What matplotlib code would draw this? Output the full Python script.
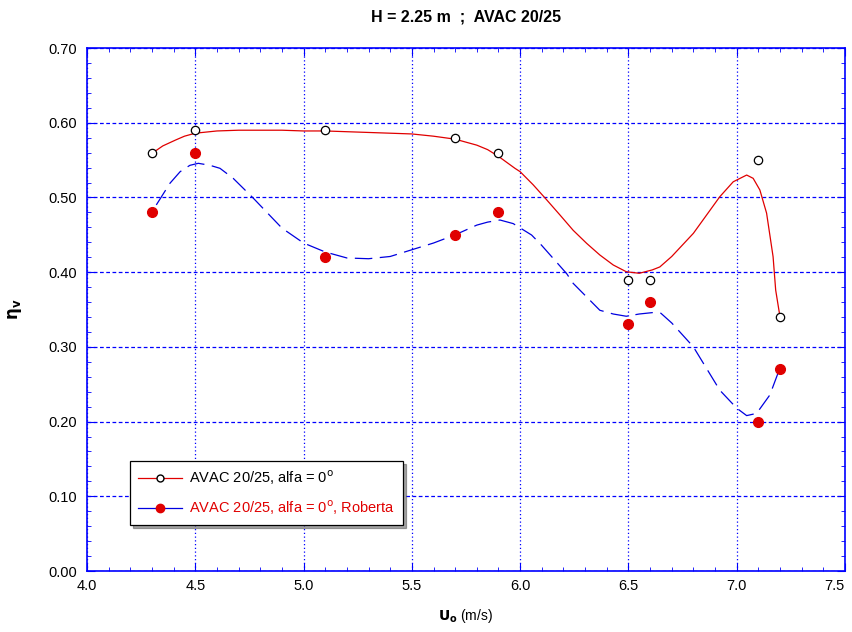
import matplotlib.pyplot as plt
from matplotlib.ticker import MultipleLocator, FuncFormatter, FormatStrFormatter

plt.rcParams['font.family'] = ['Liberation Sans', 'DejaVu Sans']

# measured points
u_meas = [4.3, 4.5, 5.1, 5.7, 5.9, 6.5, 6.6, 7.1, 7.2]
eta_alfa0 = [0.56, 0.59, 0.59, 0.58, 0.56, 0.39, 0.39, 0.55, 0.34]
eta_roberta = [0.48, 0.56, 0.42, 0.45, 0.48, 0.33, 0.36, 0.20, 0.27]

# fitted curves
u_fit_a = [4.30, 4.35, 4.41, 4.45, 4.50, 4.60, 4.70, 4.80, 4.90, 5.00, 5.10,
           5.20, 5.30, 5.40, 5.50, 5.60, 5.70, 5.80, 5.85, 5.90, 5.976, 6.00,
           6.06, 6.122, 6.184, 6.245, 6.307, 6.368, 6.43, 6.49, 6.55, 6.61,
           6.645, 6.70, 6.80, 6.922, 6.984, 7.046, 7.076, 7.107, 7.138, 7.168,
           7.18, 7.20]
eta_fit_a = [0.559, 0.569, 0.577, 0.582, 0.586, 0.589, 0.590, 0.590, 0.590, 0.589,
             0.589, 0.588, 0.587, 0.586, 0.585, 0.582, 0.578, 0.570, 0.564, 0.555,
             0.539, 0.5345, 0.517, 0.497, 0.4765, 0.456, 0.4386, 0.423, 0.4096,
             0.4006, 0.3985, 0.403, 0.407, 0.421, 0.452, 0.501, 0.521, 0.530,
             0.5256, 0.510, 0.479, 0.4207, 0.376, 0.34]

u_fit_b = [4.32, 4.383, 4.43, 4.475, 4.514, 4.568, 4.614, 4.675, 4.768, 4.90,
           5.00, 5.10, 5.20, 5.30, 5.40, 5.50, 5.60, 5.70, 5.80, 5.85, 5.907,
           5.968, 6.053, 6.099, 6.215, 6.245, 6.368, 6.43, 6.49, 6.55, 6.615,
           6.65, 6.70, 6.80, 6.922, 7.00, 7.046, 7.092, 7.153, 7.20]
eta_fit_b = [0.49, 0.519, 0.5345, 0.543, 0.5457, 0.543, 0.539, 0.5256, 0.499,
             0.459, 0.439, 0.427, 0.419, 0.418, 0.421, 0.430, 0.439, 0.450, 0.463,
             0.467, 0.4698, 0.465, 0.4497, 0.436, 0.398, 0.385, 0.349, 0.344,
             0.341, 0.344, 0.346, 0.345, 0.332, 0.300, 0.242, 0.218, 0.208,
             0.211, 0.2356, 0.272]

X_MIN, X_MAX = 4.0, 7.5

fig = plt.figure(figsize=(8.53, 6.32), dpi=100)
ax = fig.add_axes([0.102, 0.0965, 0.8886, 0.8275])

ax.plot(u_fit_a, eta_fit_a, color='#e00000', lw=0.9)
ax.plot(u_fit_b, eta_fit_b, color='#0000e0', lw=0.9, dashes=(14, 6))
ax.plot(u_meas, eta_alfa0, 'o', mfc='white', mec='black', ms=6, mew=0.9)
ax.plot(u_meas, eta_roberta, 'o', mfc='#e00000', mec='#e00000', ms=7)

# legend proxies
h1, = ax.plot([], [], color='#e00000', lw=0.9, marker='o', mfc='white', mec='black', ms=5)
h2, = ax.plot([], [], color='#0000e0', lw=0.9, marker='o', mfc='#e00000', mec='#e00000', ms=6)
leg = ax.legend([h1, h2], ['AVAC 20/25, alfa = 0$^{\\rm o}$',
                           'AVAC 20/25, alfa = 0$^{\\rm o}$, Roberta'],
                loc='lower left', bbox_to_anchor=(0.057, 0.088), borderaxespad=0,
                fontsize=10.5, frameon=True, fancybox=False, shadow=True,
                edgecolor='black', handlelength=3.0, handletextpad=0.5,
                labelspacing=0.75, borderpad=0.55)
leg.get_frame().set_linewidth(0.9)
leg.get_texts()[1].set_color('#e00000')

ax.set_xlim(X_MIN, X_MAX)
ax.set_ylim(0.0, 0.70)
ax.xaxis.set_major_locator(MultipleLocator(0.5))
ax.xaxis.set_minor_locator(MultipleLocator(0.1))
ax.yaxis.set_major_locator(MultipleLocator(0.1))
ax.yaxis.set_minor_locator(MultipleLocator(0.02))
# last x label is drawn right-aligned below, so it stays inside the figure
ax.xaxis.set_major_formatter(FuncFormatter(
    lambda v, pos: '' if abs(v - X_MAX) < 1e-9 else '%.1f' % v))
ax.yaxis.set_major_formatter(FormatStrFormatter('%.2f'))

ax.xaxis.grid(True, color='#0000ff', ls=(0, (1, 2)), lw=0.9)
ax.yaxis.grid(True, color='#0000ff', ls=(0, (3, 2)), lw=0.9)
ax.set_axisbelow(True)

ax.tick_params(which='both', direction='in', top=True, right=True, colors='#0000ff',
               labelcolor='black', labelsize=10.5)
ax.tick_params(which='major', length=6)
ax.tick_params(which='minor', length=3)
ax.tick_params(axis='y', which='major', pad=7)
ax.tick_params(axis='x', which='major', pad=6)
for s in ax.spines.values():
    s.set_color('#0000ff')
    s.set_linewidth(1.2)

ax.annotate('%.1f' % X_MAX, xy=(1, 0), xycoords='axes fraction', xytext=(0, -6),
            textcoords='offset points', ha='right', va='top', fontsize=10.5)

ax.set_title('H = 2.25 m  ;  AVAC 20/25', fontsize=11.5, fontweight='bold', pad=19)
ax.set_xlabel(r'$\mathbf{U_o}$ (m/s)', fontsize=10, labelpad=10)
ax.set_ylabel(r'$\mathbf{\eta_v}$', fontsize=12, labelpad=18)

fig.savefig('out.png', dpi=100)
